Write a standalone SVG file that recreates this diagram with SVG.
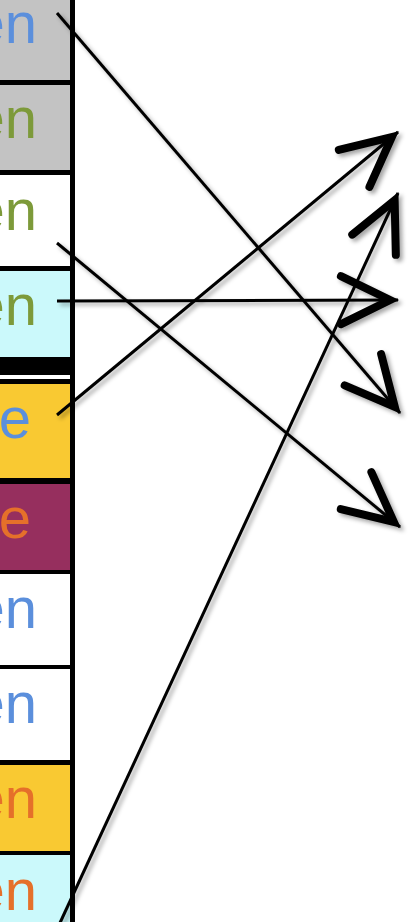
<svg xmlns="http://www.w3.org/2000/svg" width="410" height="922" viewBox="0 0 410 922">
<style>
.t{font-family:"Liberation Sans",Arial,sans-serif;font-size:58px;text-anchor:end}
.b{fill:#5b8fdc}.g{fill:#7d9a3a}.o{fill:#e5702a}
.sh{fill:none;stroke:#000;stroke-width:3;stroke-linecap:butt}
</style>
<defs>
<filter id="ds" x="-20%" y="-20%" width="140%" height="140%">
<feDropShadow dx="3" dy="3" stdDeviation="2" flood-color="#000" flood-opacity="0.35"/>
</filter>
<marker id="ah" markerUnits="userSpaceOnUse" viewBox="-70 -40 80 80" markerWidth="80" markerHeight="80" refX="0" refY="0" orient="auto" overflow="visible">
<path d="M-57,-24 L-8,0 L-57,24" fill="none" stroke="#000" stroke-width="8" stroke-linejoin="miter" stroke-linecap="round"/>
</marker>
</defs>
<rect width="410" height="922" fill="#fff"/>
<g id="table">
<rect x="0" y="0" width="70" height="922" fill="#000"/>
<rect x="70" y="0" width="5" height="922" fill="#000"/>
<g id="r1"><rect x="0" y="0" width="70" height="80" fill="#c3c3c3"/><text class="t b" x="37" y="43">en</text></g>
<g id="r2"><rect x="0" y="85" width="70" height="85" fill="#c3c3c3"/><text class="t g" x="37" y="138">en</text></g>
<g id="r3"><rect x="0" y="175" width="70" height="91" fill="#fff"/><text class="t g" x="37" y="230">en</text></g>
<g id="r4"><rect x="0" y="271" width="70" height="86" fill="#cbf9fb"/><text class="t g" x="37" y="325">en</text></g>
<rect x="0" y="375" width="70" height="4" fill="#fff"/>
<g id="r5"><rect x="0" y="384" width="70" height="94" fill="#f9c932"/><text class="t b" x="31" y="438">je</text></g>
<g id="r6"><rect x="0" y="484" width="70" height="86" fill="#962f5e"/><text class="t o" x="31" y="538">je</text></g>
<g id="r7"><rect x="0" y="574" width="70" height="91" fill="#fff"/><text class="t b" x="37" y="628">en</text></g>
<g id="r8"><rect x="0" y="669" width="70" height="91" fill="#fff"/><text class="t b" x="37" y="723">en</text></g>
<g id="r9"><rect x="0" y="765" width="70" height="86" fill="#f9c932"/><text class="t o" x="37" y="818">en</text></g>
<g id="r10"><rect x="0" y="855" width="70" height="67" fill="#cbf9fb"/><text class="t o" x="37" y="910">en</text></g>
</g>
<g id="connectors" filter="url(#ds)">
<path class="sh" d="M57,13 L400,413" marker-end="url(#ah)"/>
<path class="sh" d="M57,243 L400,527" marker-end="url(#ah)"/>
<path class="sh" d="M57,301 L398,300" marker-end="url(#ah)"/>
<path class="sh" d="M57,415 L398,132" marker-end="url(#ah)"/>
<path class="sh" d="M59,925 L398,193" marker-end="url(#ah)"/>
</g>
</svg>
